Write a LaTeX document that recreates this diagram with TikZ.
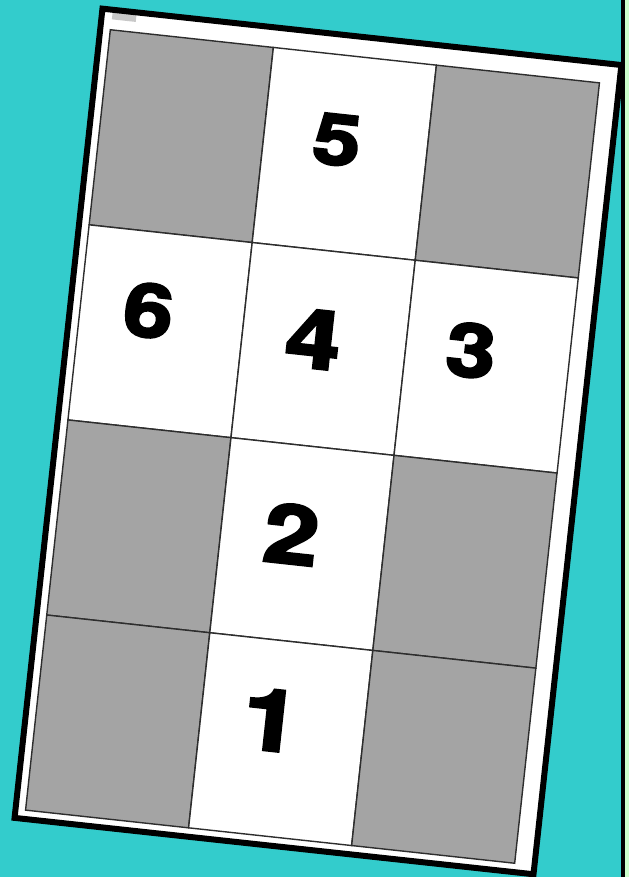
\documentclass[tikz,border=0pt]{standalone}
\usepackage{fontspec}
\newfontfamily\numfont{TeX Gyre Heros}[BoldFeatures={FakeBold=3}]
\definecolor{bgteal}{RGB}{51,204,204}
\definecolor{palegreen}{RGB}{204,255,204}
\definecolor{cellgray}{RGB}{164,164,164}
\definecolor{gridline}{RGB}{45,45,45}
\definecolor{markgray}{RGB}{200,200,200}
\begin{document}
\begin{tikzpicture}[x=1pt,y=1pt,
  cell/.style={draw=gridline, line width=1.4pt, minimum width=164pt, minimum height=196.25pt, inner sep=0pt, outer sep=0pt},
  whitecell/.style={cell, fill=white},
  graycell/.style={cell, fill=cellgray},
  digit/.style={inner sep=0pt, text=black, xscale=1.2},
]
\fill[bgteal] (0,0) rectangle (629,877);
\useasboundingbox (0,0) rectangle (629,877);
\fill[palegreen] (625,0) rectangle (629,877);
\fill[black] (620.5,0) rectangle (624.5,877);
\begin{scope}[shift={(312.5,430.5)}, rotate=-6.2, transform shape]
  \fill[white] (-256.1,-401.4) rectangle (265.9,412.6);
  \fill[markgray] (-245.6,403) rectangle (-221.6,412);
  \draw[line width=6pt] (-256.1,-401.4) rectangle (265.9,412.6);
  % row 1
  \node[graycell]  (r1c1) at (-164, 294.375) {};
  \node[whitecell] (r1c2) at (0, 294.375) {};
  \node[graycell]  (r1c3) at (164, 294.375) {};
  % row 2
  \node[whitecell] (r2c1) at (-164, 98.125) {};
  \node[whitecell] (r2c2) at (0, 98.125) {};
  \node[whitecell] (r2c3) at (164, 98.125) {};
  % row 3
  \node[graycell]  (r3c1) at (-164, -98.125) {};
  \node[whitecell] (r3c2) at (0, -98.125) {};
  \node[graycell]  (r3c3) at (164, -98.125) {};
  % row 4
  \node[graycell]  (r4c1) at (-164, -294.375) {};
  \node[whitecell] (r4c2) at (0, -294.375) {};
  \node[graycell]  (r4c3) at (164, -294.375) {};
  % digits
  \node[digit] (n5) at (-8.8, 307.4) {\numfont\bfseries\fontsize{71}{71}\selectfont 5};
  \node[digit] (n6) at (-177.7, 117.5) {\numfont\bfseries\fontsize{74}{74}\selectfont 6};
  \node[digit] (n4) at (-10.6, 107.0) {\numfont\bfseries\fontsize{82}{82}\selectfont 4};
  \node[digit] (n3) at (147.3, 112.6) {\numfont\bfseries\fontsize{74}{74}\selectfont 3};
  \node[digit] (n2) at (-11.4, -89.3) {\numfont\bfseries\fontsize{82}{82}\selectfont 2};
  \node[digit] (n1) at (-11.7, -276.5) {\numfont\bfseries\fontsize{86}{86}\selectfont 1};
\end{scope}
\end{tikzpicture}
\end{document}
